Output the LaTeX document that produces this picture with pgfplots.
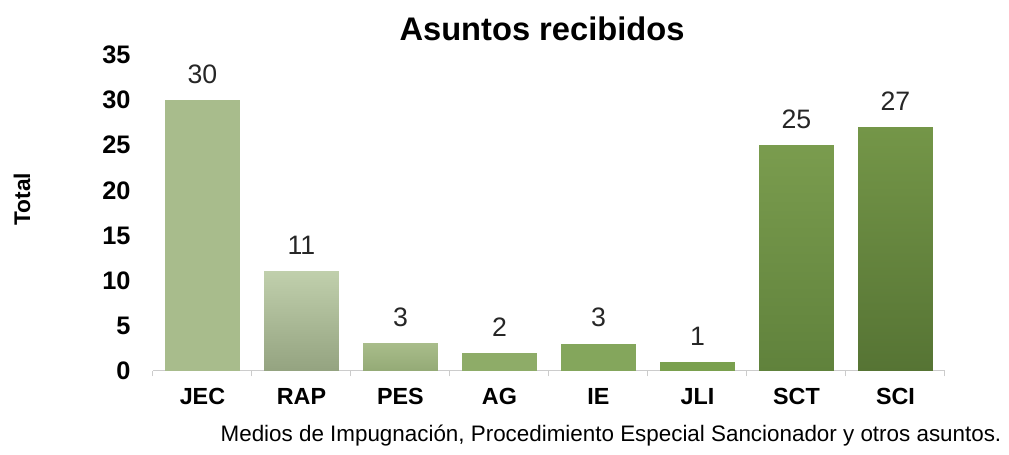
\documentclass[border=0pt]{standalone}
\usepackage{fontspec}
\setmainfont{Liberation Sans}
\usepackage{pgfplots}
\pgfplotsset{compat=1.18}
\definecolor{cJEC}{RGB}{168,188,140}
\definecolor{cRAPt}{RGB}{192,207,172}
\definecolor{cRAPb}{RGB}{148,163,128}
\definecolor{cPESt}{RGB}{168,188,138}
\definecolor{cPESb}{RGB}{148,170,118}
\definecolor{cAG}{RGB}{142,172,104}
\definecolor{cIE}{RGB}{132,166,92}
\definecolor{cJLI}{RGB}{122,160,78}
\definecolor{cSCTt}{RGB}{122,156,78}
\definecolor{cSCTb}{RGB}{96,130,60}
\definecolor{cSCIt}{RGB}{116,150,72}
\definecolor{cSCIb}{RGB}{86,116,52}
\begin{document}
\begin{tikzpicture}[x=0.75pt,y=0.75pt]
\useasboundingbox (0,0) rectangle (1009,454);
\begin{axis}[
  at={(154.5,92)}, anchor=south west,
  scale only axis,
  width=594pt, height=237pt,
  xmin=-0.5, xmax=7.5, ymin=0, ymax=35,
  axis y line*=left, y axis line style={draw=none},
  axis x line*=bottom, x axis line style={draw=black!20, line width=0.8pt},
  ytick={0,5,...,35},
  ytick style={draw=none},
  xtick={0,...,7},
  xticklabels={JEC,RAP,PES,AG,IE,JLI,SCT,SCI},
  major x tick style={draw=none},
  minor xtick={-0.5,0.5,...,7.5},
  minor x tick style={draw=black!20, line width=0.8pt},
  minor tick length=4pt,
  xtick pos=bottom, tick align=outside,
  /pgf/number format/assume math mode=true,
  yticklabel style={font=\bfseries\fontsize{19}{19}\selectfont, xshift=-9pt},
  xticklabel style={font=\bfseries\fontsize{17.5}{17.5}\selectfont, yshift=-5pt},
  ybar, bar width=56pt, bar shift=0pt,
  nodes near coords,
  nodes near coords style={font=\fontsize{20}{20}\selectfont, text=black!85, yshift=9pt},
  every axis plot/.append style={draw=none},
]
\addplot[fill=cJEC] coordinates {(0,30)};
\addplot[top color=cRAPt, bottom color=cRAPb] coordinates {(1,11)};
\addplot[top color=cPESt, bottom color=cPESb] coordinates {(2,3)};
\addplot[fill=cAG] coordinates {(3,2)};
\addplot[fill=cIE] coordinates {(4,3)};
\addplot[fill=cJLI] coordinates {(5,1)};
\addplot[top color=cSCTt, bottom color=cSCTb] coordinates {(6,25)};
\addplot[top color=cSCIt, bottom color=cSCIb] coordinates {(7,27)};
\end{axis}
\node[font=\bfseries\fontsize{24.5}{24.5}\selectfont] at (542,425) {Asuntos recibidos};
\node[font=\bfseries\fontsize{17}{17}\selectfont, rotate=90] at (22,255) {Total};
\node[font=\fontsize{16.8}{16.8}\selectfont] at (611,18) {Medios de Impugnación, Procedimiento Especial Sancionador y otros asuntos.};
\end{tikzpicture}
\end{document}
